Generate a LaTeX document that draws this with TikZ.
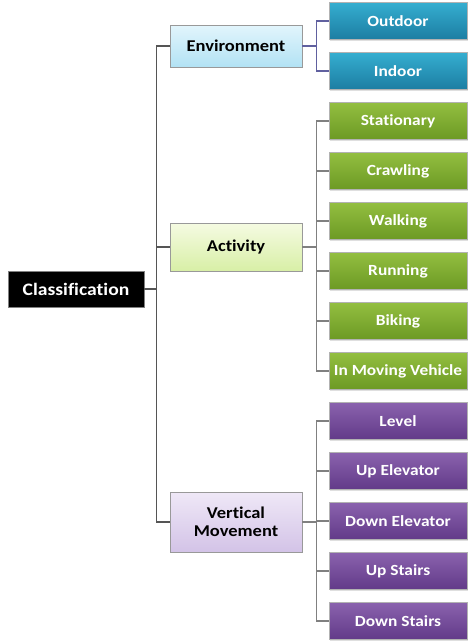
\documentclass[tikz,border=0pt]{standalone}
\usepackage{fontspec}
\setmainfont[FakeStretch=1.12, Ligatures=NoCommon]{Carlito}
\usetikzlibrary{shadows}
\definecolor{linegray}{HTML}{555555}
\definecolor{envtop}{HTML}{E2F5FC}
\definecolor{envbot}{HTML}{B2E2F4}
\definecolor{acttop}{HTML}{F5FBE2}
\definecolor{actbot}{HTML}{D8EFA6}
\definecolor{verttop}{HTML}{EFE8F7}
\definecolor{vertbot}{HTML}{D3C3E7}
\definecolor{bluetop}{HTML}{35AED0}
\definecolor{bluebot}{HTML}{1C7DA2}
\definecolor{greentop}{HTML}{93BE40}
\definecolor{greenbot}{HTML}{6C9A24}
\definecolor{purptop}{HTML}{8A62AE}
\definecolor{purpbot}{HTML}{623A88}
\tikzset{
  box/.style={rectangle, draw=gray!80, line width=0.8pt, minimum width=132pt, minimum height=42pt,
    font=\fontsize{16.5}{18}\selectfont\bfseries, align=center,
    drop shadow={opacity=0.25, shadow xshift=1.2pt, shadow yshift=-1.2pt}},
  leaf/.style={rectangle, draw=gray!60, line width=0.5pt, minimum width=138pt, minimum height=37pt,
    text=white, font=\fontsize{15.5}{16}\selectfont\bfseries,
    drop shadow={opacity=0.25, shadow xshift=1.2pt, shadow yshift=-1.2pt}},
  conn/.style={draw=linegray, line width=1.3pt}
}
\begin{document}
\begin{tikzpicture}[x=1pt, y=-1pt]
  \useasboundingbox (0,0) rectangle (468,643);
  % root
  \node [rectangle, fill=black, draw=gray, minimum width=136pt, minimum height=36pt, text=white,
    font=\fontsize{17.5}{18}\selectfont\bfseries] (cls) at (76,289) {Classification};
  % second level
  \node [box, top color=envtop, bottom color=envbot] (env) at (236,46) {Environment};
  \node [box, top color=acttop, bottom color=actbot, minimum height=48pt] (act) at (236,247) {Activity};
  \node [box, top color=verttop, bottom color=vertbot, minimum height=60pt] (vert) at (236,522) {Vertical\\Movement};
  % leaves
  \node [leaf, top color=bluetop, bottom color=bluebot] (out) at (398,21) {Outdoor};
  \node [leaf, top color=bluetop, bottom color=bluebot] (ind) at (398,71) {Indoor};
  \foreach \name/\txt [count=\i] in {sta/Stationary, cra/Crawling, wal/Walking, run/Running, bik/Biking, veh/In Moving Vehicle}
    \node [leaf, top color=greentop, bottom color=greenbot] (\name) at (398,71+50*\i) {\txt};
  \foreach \name/\txt [count=\i] in {lev/Level, upe/Up Elevator, dne/Down Elevator, ups/Up Stairs, dns/Down Stairs}
    \node [leaf, top color=purptop, bottom color=purpbot] (\name) at (398,371+50*\i) {\txt};
  % connectors
  \draw [conn] (cls.east) -- ++(12,0) |- (env.west);
  \draw [conn] (cls.east) -- ++(12,0) |- (act.west);
  \draw [conn] (cls.east) -- ++(12,0) |- (vert.west);
  \foreach \leafnode in {out, ind}
    \draw [conn, draw=blue!25!gray] (env.east) -- ++(14,0) |- (\leafnode.west);
  \foreach \leafnode in {sta, cra, wal, run, bik, veh}
    \draw [conn, draw=gray] (act.east) -- ++(14,0) |- (\leafnode.west);
  \foreach \leafnode in {lev, upe, dne, ups, dns}
    \draw [conn, draw=gray] (vert.east) -- ++(14,0) |- (\leafnode.west);
\end{tikzpicture}
\end{document}
